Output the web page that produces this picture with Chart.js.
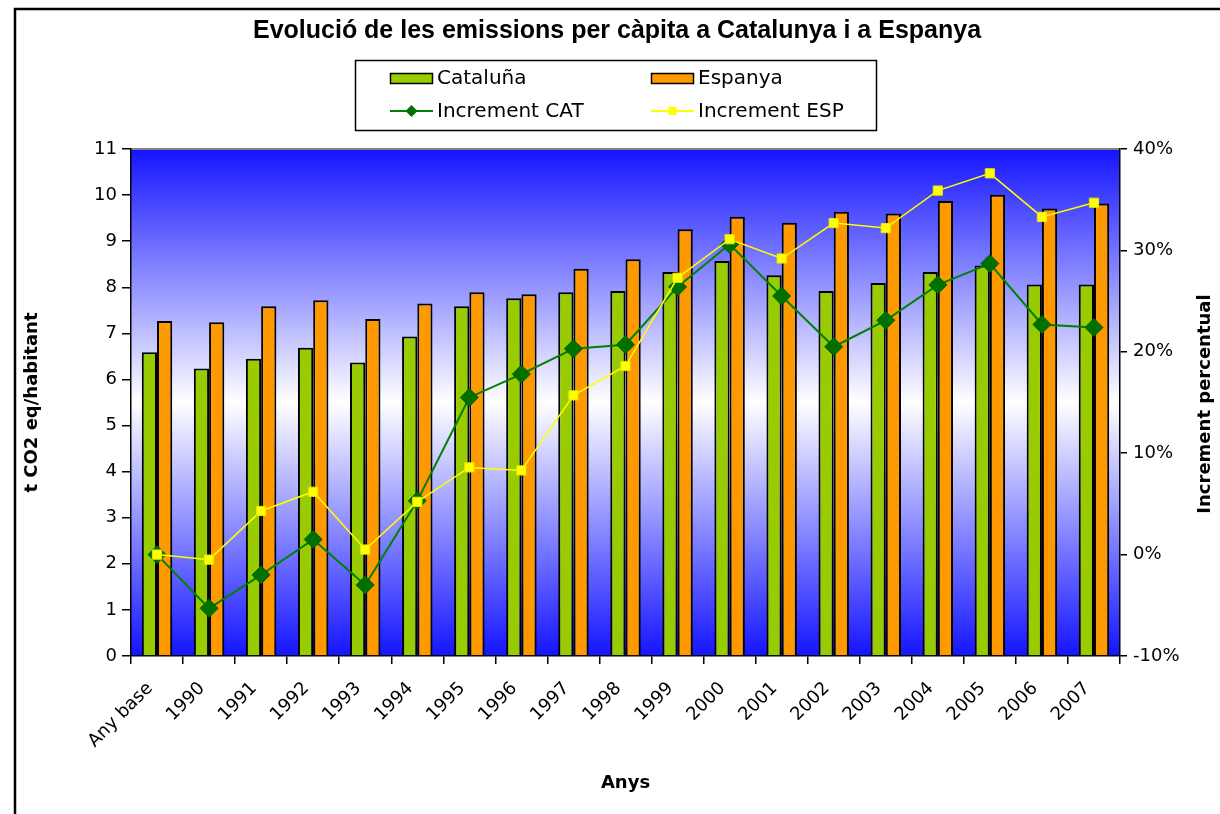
<!DOCTYPE html>
<html>
<head>
<meta charset="utf-8">
<script src="https://cdn.jsdelivr.net/npm/chart.js@4"></script>
<style>
html,body{margin:0;padding:0;background:#fff;}
#wrap{width:1220px;height:814px;position:relative;}
</style>
</head>
<body>
<div id="wrap"><canvas id="c" width="1220" height="814"></canvas></div>
<script>
const chartTitle = 'Evolució de les emissions per càpita a Catalunya i a Espanya';
const categories = ['Any base','1990','1991','1992','1993','1994','1995','1996','1997','1998','1999','2000','2001','2002','2003','2004','2005','2006','2007'];
const cataluna = [6.59,6.24,6.45,6.69,6.37,6.93,7.59,7.76,7.89,7.92,8.33,8.57,8.26,7.92,8.09,8.33,8.47,8.06,8.06];
const espanya = [7.27,7.24,7.59,7.72,7.31,7.65,7.89,7.85,8.40,8.61,9.26,9.53,9.40,9.64,9.60,9.87,10.01,9.71,9.82];
const incrementCAT = [0,-5.3,-2.0,1.5,-3.0,5.3,15.5,17.8,20.3,20.7,26.4,30.6,25.5,20.5,23.1,26.6,28.7,22.7,22.4];
const incrementESP = [0,-0.5,4.3,6.2,0.5,5.2,8.6,8.3,15.7,18.6,27.3,31.1,29.2,32.7,32.2,35.9,37.6,33.3,34.7];
const leftTitle = 't CO2 eq/habitant';
const rightTitle = 'Increment percentual';
const xTitle = 'Anys';

const FONT = "'DejaVu Sans', sans-serif";

const decor = {
  id: 'decor',
  beforeDraw(chart) {
    const {ctx, chartArea: a} = chart;
    ctx.save();
    const g = ctx.createLinearGradient(0, a.top, 0, a.bottom);
    g.addColorStop(0, '#1414ff');
    g.addColorStop(0.5, '#ffffff');
    g.addColorStop(1, '#1414ff');
    ctx.fillStyle = g;
    ctx.fillRect(a.left, a.top, a.right - a.left, a.bottom - a.top);
    ctx.strokeStyle = '#808080';
    ctx.lineWidth = 2;
    ctx.beginPath();
    ctx.moveTo(a.left, a.top);
    ctx.lineTo(a.right, a.top);
    ctx.stroke();
    ctx.restore();
  },
  afterDraw(chart) {
    const {ctx, chartArea: a} = chart;
    ctx.save();
    // outer frame
    ctx.strokeStyle = '#000';
    ctx.lineWidth = 2.5;
    ctx.beginPath();
    ctx.moveTo(15, 814);
    ctx.lineTo(15, 9);
    ctx.lineTo(1220, 9);
    ctx.stroke();
    // title
    ctx.fillStyle = '#000';
    ctx.font = "bold 25px 'Liberation Sans', Arial, sans-serif";
    ctx.textAlign = 'center';
    ctx.textBaseline = 'middle';
    ctx.fillText(chartTitle, 617, 31);
    // right axis title
    ctx.save();
    ctx.translate(1205, 404);
    ctx.rotate(-Math.PI / 2);
    ctx.font = "bold 18px " + FONT;
    ctx.fillText(rightTitle, 0, 0);
    ctx.restore();
    // legend
    const ds = chart.data.datasets;
    ctx.lineWidth = 1.5;
    ctx.strokeStyle = '#000';
    ctx.strokeRect(355.5, 60.5, 521, 70);
    ctx.font = "20px " + FONT;
    ctx.textAlign = 'left';
    const cols = [390, 651];
    const rows = [78, 111];
    ds.forEach((d, i) => {
      const x = cols[i % 2], y = rows[Math.floor(i / 2)];
      if (d.type === 'bar') {
        ctx.fillStyle = d.backgroundColor;
        ctx.fillRect(x, y - 5, 42, 10);
        ctx.lineWidth = 1.5;
        ctx.strokeStyle = '#000';
        ctx.strokeRect(x + 0.5, y - 4.5, 42, 10);
      } else {
        ctx.strokeStyle = d.borderColor;
        ctx.lineWidth = 2;
        ctx.beginPath();
        ctx.moveTo(x, y);
        ctx.lineTo(x + 43, y);
        ctx.stroke();
        ctx.fillStyle = d.pointBackgroundColor;
        const cx = x + 21.5;
        if (d.pointStyle === 'rectRot') {
          ctx.beginPath();
          ctx.moveTo(cx, y - 6);
          ctx.lineTo(cx + 6, y);
          ctx.lineTo(cx, y + 6);
          ctx.lineTo(cx - 6, y);
          ctx.closePath();
          ctx.fill();
        } else {
          ctx.fillRect(cx - 4, y - 4, 8, 8);
        }
      }
      ctx.fillStyle = '#000';
      ctx.fillText(d.label, x + 47, y + 1);
    });
    ctx.restore();
  }
};

new Chart(document.getElementById('c'), {
  data: {
    labels: categories,
    datasets: [
      {type: 'bar', label: 'Cataluña', data: cataluna, yAxisID: 'y', backgroundColor: '#99cc00', borderColor: '#000', borderWidth: 2, order: 2, categoryPercentage: 0.585, barPercentage: 1.0},
      {type: 'bar', label: 'Espanya', data: espanya, yAxisID: 'y', backgroundColor: '#ff9900', borderColor: '#000', borderWidth: 2, order: 2, categoryPercentage: 0.585, barPercentage: 1.0},
      {type: 'line', label: 'Increment CAT', data: incrementCAT, yAxisID: 'y1', borderColor: '#008000', borderWidth: 2, pointStyle: 'rectRot', pointRadius: 9, pointBackgroundColor: '#007000', pointBorderColor: '#006000', pointBorderWidth: 1, order: 1, tension: 0},
      {type: 'line', label: 'Increment ESP', data: incrementESP, yAxisID: 'y1', borderColor: '#ffff00', borderWidth: 1.5, pointStyle: 'rect', pointRadius: 6.5, pointBackgroundColor: '#ffff00', pointBorderColor: '#e8e800', pointBorderWidth: 1, order: 0, tension: 0}
    ]
  },
  options: {
    responsive: false,
    animation: false,
    layout: {padding: {top: 149, left: 0, right: 0, bottom: 0}},
    plugins: {legend: {display: false}, title: {display: false}, tooltip: {enabled: false}},
    scales: {
      x: {
        type: 'category',
        offset: true,
        grid: {display: true, drawOnChartArea: false, drawTicks: true, tickLength: 8, color: '#000', lineWidth: 1.5, offset: true},
        border: {display: true, color: '#000', width: 1.5},
        ticks: {minRotation: 45, maxRotation: 45, autoSkip: false, color: '#000', font: {family: FONT, size: 18}, padding: 14, labelOffset: -7},
        title: {display: true, text: xTitle, color: '#000', font: {family: FONT, size: 18, weight: 'bold'}, padding: {top: 0, bottom: 20}},
        afterFit(s) { s.height = 158; }
      },
      y: {
        position: 'left',
        min: 0, max: 11,
        grid: {display: true, drawOnChartArea: false, drawTicks: true, tickLength: 9, color: '#000', lineWidth: 1.5},
        border: {display: true, color: '#000', width: 1.5},
        ticks: {stepSize: 1, color: '#000', font: {family: FONT, size: 18}, padding: 5},
        title: {display: true, text: leftTitle, color: '#000', font: {family: FONT, size: 18, weight: 'bold'}, padding: {top: 22, bottom: 0}},
        afterFit(s) { s.width = 131; }
      },
      y1: {
        position: 'right',
        min: -10, max: 40,
        grid: {display: true, drawOnChartArea: false, drawTicks: true, tickLength: 7, color: '#000', lineWidth: 1.5},
        border: {display: true, color: '#000', width: 1.5},
        ticks: {stepSize: 10, color: '#000', font: {family: FONT, size: 18}, padding: 6, callback: v => v + '%'},
        afterFit(s) { s.width = 100; }
      }
    }
  },
  plugins: [decor]
});
</script>
</body>
</html>
